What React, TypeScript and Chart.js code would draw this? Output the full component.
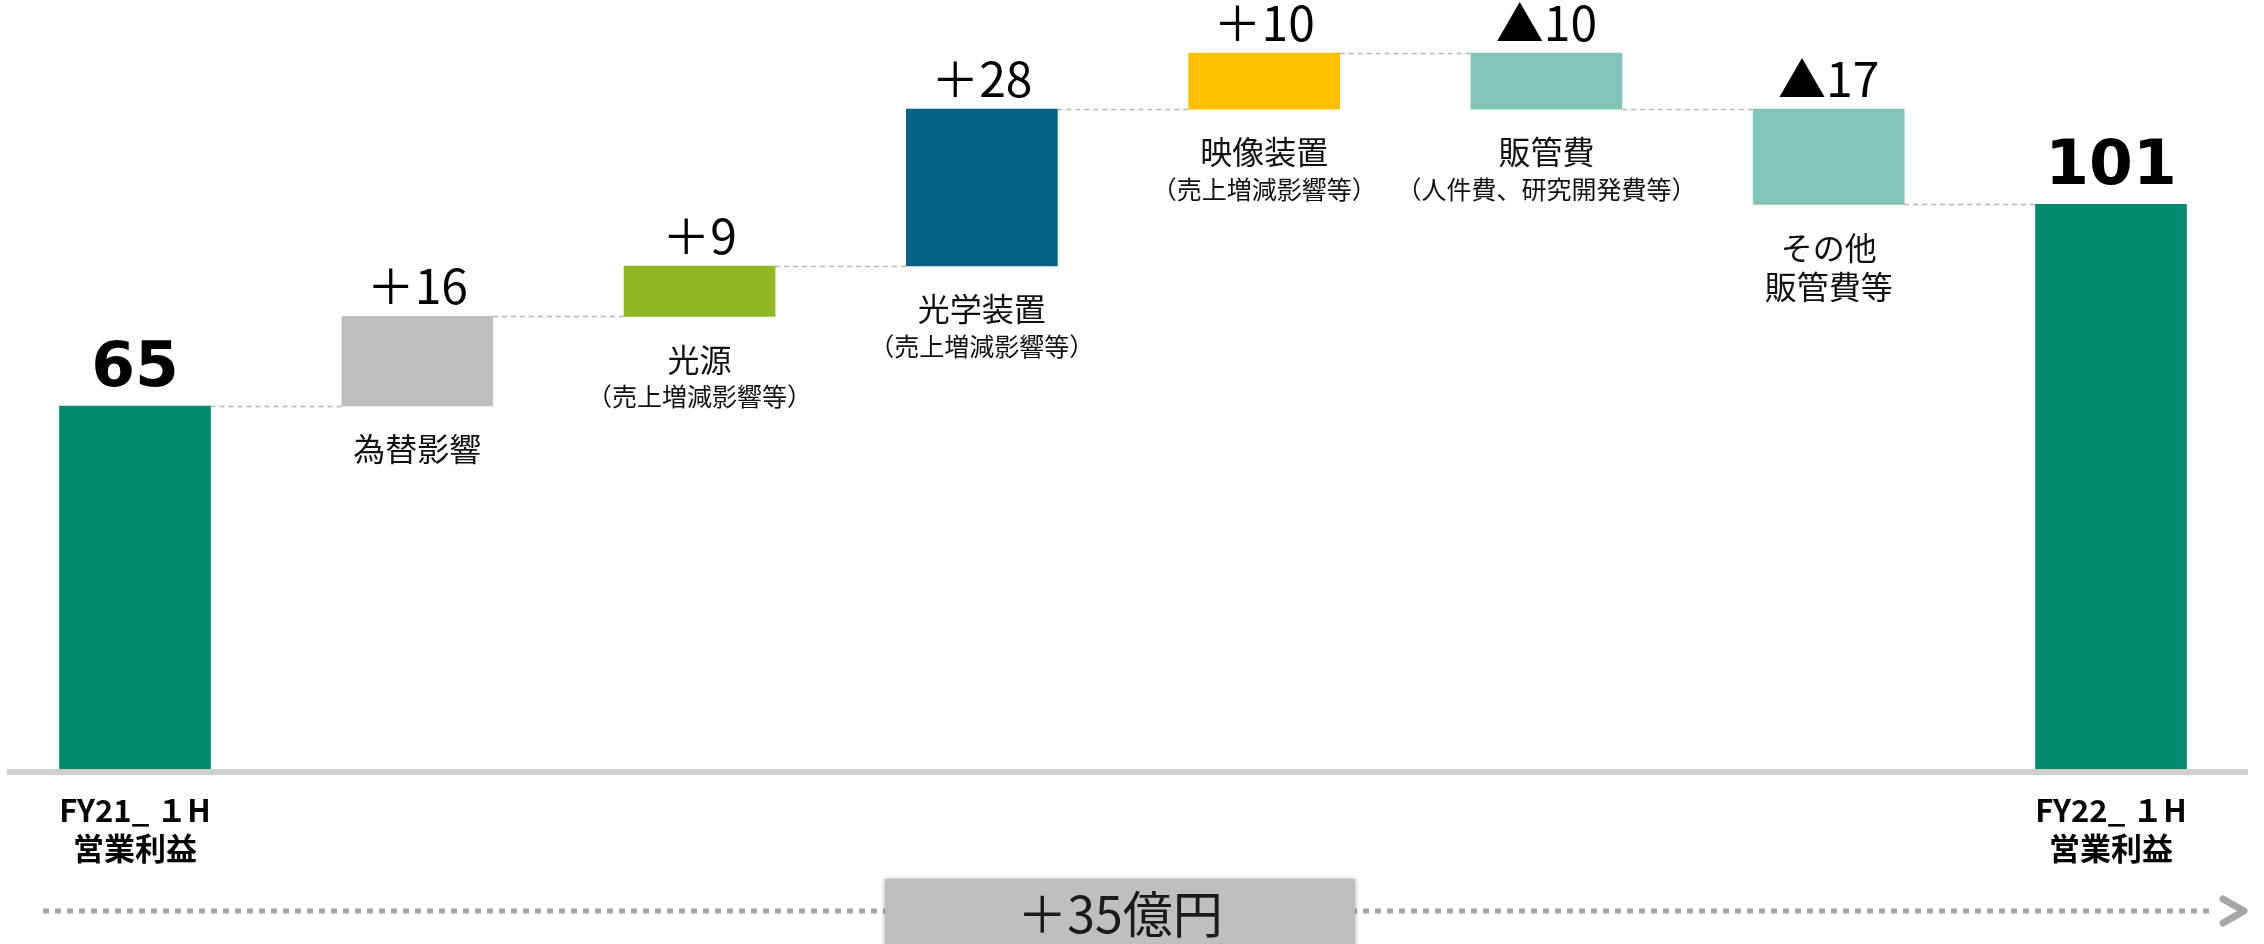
import React, { useEffect, useRef } from "react";
import { Chart, registerables } from "chart.js";

Chart.register(...registerables);

// ---- data ----
const categories = ["FY21_1H", "為替影響", "光源", "光学装置", "映像装置", "販管費", "その他販管費等", "FY22_1H"];
const startValue = 65;
const deltas = [16, 9, 28, 10, -10, -17];
const endValue = 101;
const totalText = "＋35億円";

const categoryLines: string[][] = [
  [],
  ["為替影響"],
  ["光源", "（売上増減影響等）"],
  ["光学装置", "（売上増減影響等）"],
  ["映像装置", "（売上増減影響等）"],
  ["販管費", "（人件費、研究開発費等）"],
  ["その他", "販管費等"],
  [],
];
const axisLines: string[][] = [
  ["FY21_ １H", "営業利益"],
  [], [], [], [], [], [],
  ["FY22_ １H", "営業利益"],
];

const barColors = ["#028B6F", "#BFBFBF", "#8FB824", "#056087", "#FFC000", "#82C5B7", "#82C5B7", "#028B6F"];

const W = 2264;
const H = 944;
const JP = '"Noto Sans CJK JP", "Noto Sans", sans-serif';

function buildBars() {
  const bars: [number, number][] = [[0, startValue]];
  const levels: number[] = [startValue];
  let cur = startValue;
  for (const d of deltas) {
    const next = cur + d;
    bars.push([Math.min(cur, next), Math.max(cur, next)]);
    levels.push(next);
    cur = next;
  }
  bars.push([0, endValue]);
  levels.push(endValue);
  return { bars, levels };
}

function valueLabels(): string[] {
  return [String(startValue), ...deltas.map((d) => (d >= 0 ? "＋" + d : "▲" + Math.abs(d))), String(endValue)];
}

export default function App() {
  const ref = useRef<HTMLCanvasElement | null>(null);

  useEffect(() => {
    if (!ref.current) return;
    const { bars, levels } = buildBars();
    const labels = valueLabels();

    const deco = {
      id: "deco",
      beforeDatasetsDraw(chart: any) {
        const ctx = chart.ctx;
        const meta = chart.getDatasetMeta(0);
        const ys = chart.scales.y;
        ctx.save();
        // connectors
        ctx.strokeStyle = "#B8B8B8";
        ctx.lineWidth = 1.5;
        ctx.setLineDash([5, 4]);
        for (let i = 0; i < meta.data.length - 1; i++) {
          const a = meta.data[i];
          const b = meta.data[i + 1];
          const y = Math.round(ys.getPixelForValue(levels[i])) + 0.5;
          ctx.beginPath();
          ctx.moveTo(a.x + a.width / 2, y);
          ctx.lineTo(b.x - b.width / 2, y);
          ctx.stroke();
        }
        // dotted arrow
        ctx.strokeStyle = "#A6A6A6";
        ctx.lineWidth = 5;
        ctx.setLineDash([6, 6]);
        ctx.beginPath();
        ctx.moveTo(43, 911);
        ctx.lineTo(2214, 911);
        ctx.stroke();
        ctx.setLineDash([]);
        ctx.lineWidth = 7;
        ctx.lineJoin = "round";
        ctx.lineCap = "round";
        ctx.beginPath();
        ctx.moveTo(2223, 899);
        ctx.lineTo(2244, 911);
        ctx.lineTo(2223, 923);
        ctx.stroke();
        // total box
        ctx.shadowColor = "rgba(0,0,0,0.35)";
        ctx.shadowBlur = 5;
        ctx.fillStyle = "#BFBFBF";
        ctx.fillRect(885, 879, 470, 75);
        ctx.shadowBlur = 0;
        ctx.shadowColor = "transparent";
        ctx.fillStyle = "#1A1A1A";
        ctx.font = `50px ${JP}`;
        ctx.textAlign = "center";
        ctx.textBaseline = "middle";
        ctx.fillText(totalText, 1120, 914);
        ctx.restore();
      },
      afterDatasetsDraw(chart: any) {
        const ctx = chart.ctx;
        const meta = chart.getDatasetMeta(0);
        const ys = chart.scales.y;
        ctx.save();
        // axis line
        ctx.fillStyle = "#D0D0D0";
        const y0 = ys.getPixelForValue(0);
        ctx.fillRect(7, y0 - 1, 2241, 6);
        ctx.textAlign = "center";
        meta.data.forEach((el: any, i: number) => {
          const top = Math.min(el.y, el.base);
          const bottom = Math.max(el.y, el.base);
          const isTotal = i === 0 || i === meta.data.length - 1;
          ctx.fillStyle = "#000";
          ctx.textBaseline = "alphabetic";
          if (isTotal) {
            ctx.font = `700 63px "DejaVu Sans", ${JP}`;
            ctx.fillText(labels[i], el.x, top - 20);
          } else {
            ctx.font = `48px ${JP}`;
            ctx.fillText(labels[i], el.x, top - 12);
          }
          // category labels under the bars
          ctx.textBaseline = "middle";
          let ly = bottom + 43;
          categoryLines[i].forEach((line, k) => {
            const sub = line.startsWith("（");
            ctx.fillStyle = "#111";
            ctx.font = sub ? `25px ${JP}` : `32px ${JP}`;
            if (k > 0) ly += sub ? 37 : 39;
            ctx.fillText(line, el.x, ly);
          });
          // axis labels
          axisLines[i].forEach((line, k) => {
            ctx.fillStyle = "#000";
            ctx.font = `700 31px ${JP}`;
            ctx.fillText(line, el.x, 810 + k * 38);
          });
        });
        ctx.restore();
      },
    };

    const chart = new Chart(ref.current, {
      type: "bar",
      data: {
        labels: categories,
        datasets: [
          {
            data: bars as any,
            backgroundColor: barColors,
            borderWidth: 0,
            barThickness: 151,
            clip: false as any,
          },
        ],
      },
      options: {
        animation: false,
        responsive: false,
        devicePixelRatio: 1,
        layout: { padding: { left: 135, right: 153, top: 14, bottom: 174 } },
        plugins: { legend: { display: false }, tooltip: { enabled: false } },
        scales: {
          x: { type: "category", offset: false, display: false, grid: { display: false } },
          y: { min: 0, max: 135, display: false, grid: { display: false } },
        },
      },
      plugins: [deco],
    });
    return () => chart.destroy();
  }, []);

  return (
    <canvas
      ref={ref}
      width={W}
      height={H}
      style={{ display: "block", position: "absolute", left: 0, top: 0, width: W, height: H }}
    />
  );
}
